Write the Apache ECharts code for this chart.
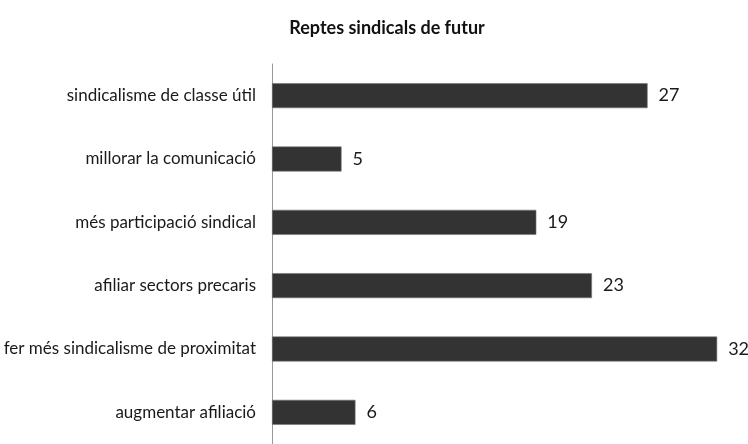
<!DOCTYPE html>
<html>
<head>
<meta charset="utf-8">
<script src="https://cdn.jsdelivr.net/npm/echarts@6/dist/echarts.min.js"></script>
<style>
  html, body { margin: 0; padding: 0; background: #fff; }
  #chart { width: 748px; height: 444px; }
</style>
</head>
<body>
<div id="chart"></div>
<script>
// categories, top to bottom
var categories = [
  "sindicalisme de classe útil",
  "millorar la comunicació",
  "més participació sindical",
  "afiliar sectors precaris",
  "fer més sindicalisme de proximitat",
  "augmentar afiliació"
];
var values = [27, 5, 19, 23, 32, 6];

var chart = echarts.init(document.getElementById("chart"));
var font = "Lato, 'Open Sans', sans-serif";

chart.setOption({
  animation: false,
  title: {
    text: "Reptes sindicals de futur",
    left: 382,
    top: 14,
    textAlign: "center",
    textStyle: { fontFamily: font, fontSize: 18, fontWeight: "bold", color: "#111" }
  },
  grid: { left: 272, top: 64, width: 473, height: 384 },
  xAxis: {
    type: "value",
    min: 0,
    max: 34,
    show: false
  },
  yAxis: {
    type: "category",
    data: categories,
    inverse: true,
    axisLine: { show: true, lineStyle: { color: "#999", width: 1 } },
    axisTick: { show: false },
    axisLabel: { margin: 16, fontFamily: font, fontSize: 17, color: "#1a1a1a" }
  },
  series: [{
    type: "bar",
    data: values,
    barWidth: 25,
    itemStyle: { color: "#333333", borderColor: "#777", borderWidth: 0.6 },
    label: {
      show: true,
      position: "right",
      distance: 11,
      fontFamily: font,
      fontSize: 18,
      color: "#1a1a1a"
    }
  }]
});
</script>
</body>
</html>
